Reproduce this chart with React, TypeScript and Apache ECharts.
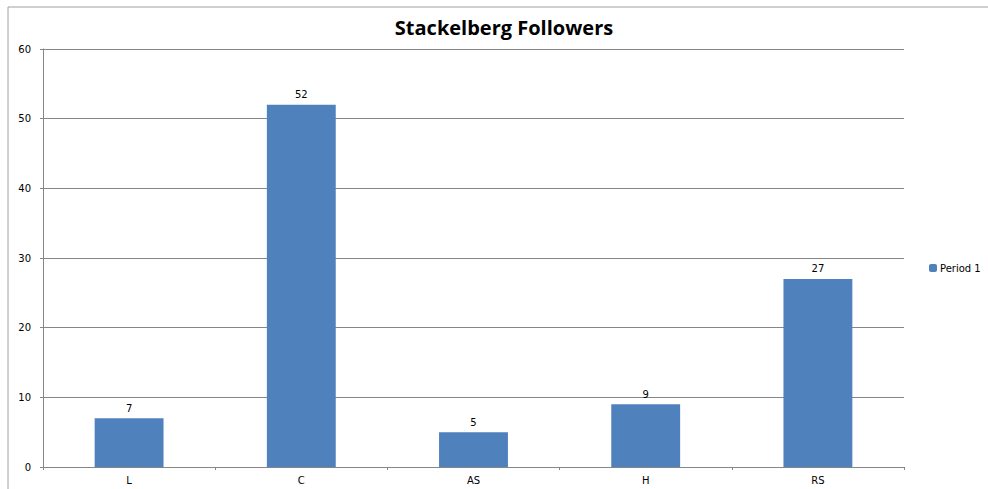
import React, { useEffect, useRef } from "react";
import * as echarts from "echarts";

const categories = ["L", "C", "AS", "H", "RS"];
const period1 = [7, 52, 5, 9, 27];
const yTicks = { min: 0, max: 60, interval: 10 };

export default function App() {
  const ref = useRef<HTMLDivElement>(null);
  useEffect(() => {
    const chart = echarts.init(ref.current!, null, { renderer: "svg" });
    chart.setOption({
      animation: false,
      backgroundColor: "#ffffff",
      title: {
        text: "Stackelberg Followers",
        left: 499,
        top: 12,
        textAlign: "center",
        textStyle: { fontFamily: "Open Sans", fontWeight: "bold", fontSize: 20, color: "#000" },
      },
      legend: {
        data: ["Period 1"],
        left: 924,
        top: 258,
        itemWidth: 8,
        itemHeight: 8,
        itemGap: 4,
        textStyle: { fontFamily: "DejaVu Sans", fontSize: 10, color: "#000", padding: [0, 0, 0, -2] },
      },
      grid: { left: 43, right: 84, top: 49, bottom: 22, containLabel: false },
      xAxis: {
        type: "category",
        data: categories,
        axisLine: { lineStyle: { color: "#868686" } },
        axisTick: { show: true, length: 3, lineStyle: { color: "#868686" } },
        axisLabel: { fontFamily: "DejaVu Sans", fontSize: 10, color: "#000", margin: 8 },
      },
      yAxis: {
        type: "value",
        min: yTicks.min,
        max: yTicks.max,
        interval: yTicks.interval,
        axisLine: { show: true, lineStyle: { color: "#868686" } },
        axisTick: { show: true, length: 3, lineStyle: { color: "#868686" } },
        axisLabel: { fontFamily: "DejaVu Sans", fontSize: 10, color: "#000", margin: 12 },
        splitLine: { lineStyle: { color: "#868686" } },
      },
      series: [
        {
          name: "Period 1",
          type: "bar",
          data: period1,
          barWidth: "40%",
          itemStyle: { color: "#4F81BD" },
          label: {
            show: true,
            position: "top",
            distance: 5,
            fontFamily: "DejaVu Sans",
            fontSize: 10,
            color: "#000",
          },
        },
      ],
      graphic: [
        { type: "line", shape: { x1: 8, y1: 7, x2: 988, y2: 7 }, style: { stroke: "#a0a0a0", lineWidth: 1 } },
        { type: "line", shape: { x1: 8, y1: 7, x2: 8, y2: 489 }, style: { stroke: "#a0a0a0", lineWidth: 1 } },
      ],
    });
    return () => chart.dispose();
  }, []);
  return (
    <div
      ref={ref}
      style={{ position: "absolute", left: 0, top: 0, width: 988, height: 489 }}
    />
  );
}
